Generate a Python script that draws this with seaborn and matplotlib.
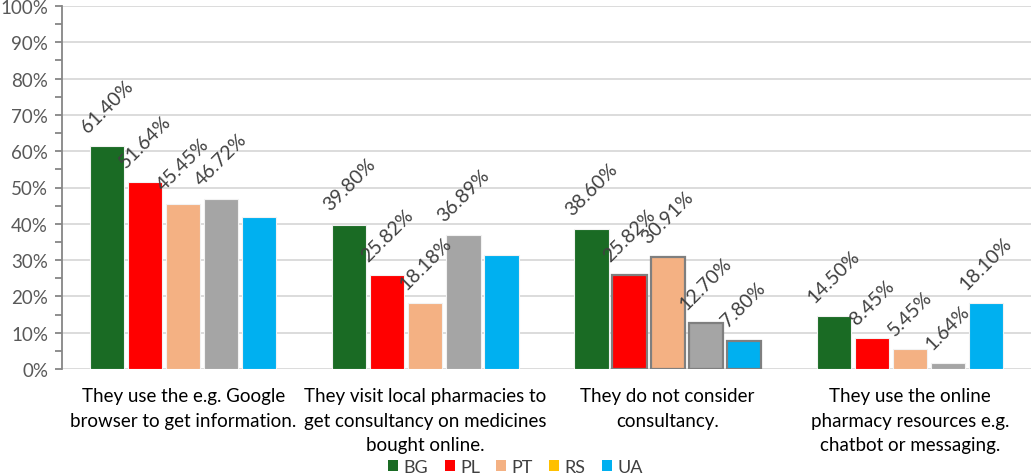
import pandas as pd
import seaborn as sb
import matplotlib.pyplot as plt
from matplotlib.patches import Patch
from matplotlib.ticker import MultipleLocator, PercentFormatter

categories = [
    'They use the e.g. Google\nbrowser to get information.',
    'They visit local pharmacies to\nget consultancy on medicines\nbought online.',
    'They do not consider\nconsultancy.',
    'They use the online\npharmacy resources e.g.\nchatbot or messaging.',
]
countries = ['BG', 'PL', 'PT', 'RS', 'UA']

bg = [61.40, 39.80, 38.60, 14.50]
pl = [51.64, 25.82, 25.82, 8.45]
pt = [45.45, 18.18, 30.91, 5.45]
rs = [46.72, 36.89, 12.70, 1.64]
ua = [41.8, 31.3, 7.80, 18.10]   # first two, no label shown
ua_labelled = [False, False, True, True]

bar_colors = ['#1A6B24', '#FF0000', '#F4B183', '#A5A5A5', '#00B0F0']
legend_colors = ['#1A6B24', '#FF0000', '#F4B183', '#FFC000', '#00B0F0']

values = [bg, pl, pt, rs, ua]
df = pd.DataFrame({
    'category': [c for _ in countries for c in categories],
    'country': [k for k in countries for _ in categories],
    'value': [v for series in values for v in series],
})

sb.set_style('white')
plt.rcParams['font.family'] = ['Lato', 'DejaVu Sans']

fig = plt.figure(figsize=(10.31, 4.77), dpi=100, facecolor='w')
ax = fig.add_axes([62 / 1031, 1 - 370 / 477, 1 - 62 / 1031, (370 - 7) / 477])

sb.barplot(data=df, x='category', y='value', hue='country', palette=bar_colors,
           width=0.785, gap=0.1, ax=ax, legend=False, saturation=1,
           edgecolor='#F2F2F2', linewidth=0.8)

# gray outlines on the third group, as in the source
for i, cont in enumerate(ax.containers):
    if i > 0:
        cont.patches[2].set_edgecolor('#7F7F7F')
        cont.patches[2].set_linewidth(1.6)

for i, cont in enumerate(ax.containers):
    for j, bar in enumerate(cont.patches):
        if countries[i] == 'UA' and not ua_labelled[j]:
            continue
        v = values[i][j]
        ax.annotate(f'{v:.2f}%', (bar.get_x() + bar.get_width() / 2, v),
                    xytext=(0, 8), textcoords='offset points',
                    ha='center', va='bottom', rotation=45,
                    fontsize=14, color='#404040')

ax.set_ylim(0, 100)
ax.set_xlim(-0.5, 3.5)
ax.yaxis.set_major_locator(MultipleLocator(10))
ax.yaxis.set_minor_locator(MultipleLocator(5))
ax.yaxis.set_major_formatter(PercentFormatter(decimals=0))
ax.grid(axis='y', color='#D9D9D9', linewidth=1.3)
ax.set_axisbelow(True)
for s in ['top', 'right', 'bottom']:
    ax.spines[s].set_visible(False)
ax.spines['left'].set_color('#868686')
ax.spines['left'].set_linewidth(1.3)
ax.tick_params(axis='y', which='both', direction='out', left=True, color='#868686',
               width=1.3, labelsize=13.5, labelcolor='#595959')
ax.tick_params(axis='y', which='major', length=5, pad=5)
ax.tick_params(axis='y', which='minor', length=5)
ax.tick_params(axis='x', length=0, pad=13, labelsize=13.5, labelcolor='black')
for lab in ax.get_xticklabels():
    lab.set_linespacing(1.55)
ax.set_xlabel(None)
ax.set_ylabel(None)

handles = [Patch(facecolor=c, edgecolor='none') for c in legend_colors]
fig.legend(handles, countries, loc='lower center', bbox_to_anchor=(0.5, 0.0), ncol=5,
           frameon=False, fontsize=13, handlelength=0.55, handleheight=0.55,
           handletextpad=0.3, columnspacing=0.9, labelcolor='#404040',
           borderpad=0.05, borderaxespad=0)

plt.savefig('out.png', dpi=100)
